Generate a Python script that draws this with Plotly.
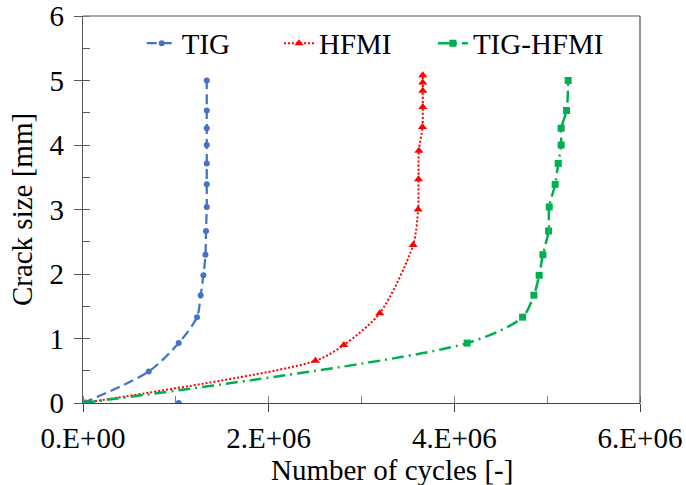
import plotly.graph_objects as go

# ---------------- data ----------------
tig_x = [0, 0.708e6, 1.031e6, 1.228e6, 1.268e6, 1.297e6, 1.319e6, 1.325e6,
         1.333e6, 1.333e6, 1.333e6, 1.333e6, 1.333e6, 1.333e6, 1.333e6]
tig_y = [0, 0.489, 0.929, 1.331, 1.672, 1.98, 2.30, 2.667,
         3.04, 3.39, 3.715, 4.0, 4.26, 4.535, 5.0]
tig_extra_x = [1.031e6]
tig_extra_y = [0]

hfmi_x = [0, 2.504e6, 2.81e6, 3.197e6, 3.556e6, 3.610e6, 3.614e6, 3.618e6,
          3.657e6, 3.66e6, 3.66e6, 3.66e6, 3.66e6]
hfmi_y = [0, 0.655, 0.90, 1.393, 2.45, 3.0, 3.47, 3.91,
          4.28, 4.59, 4.84, 4.97, 5.08]

tighfmi_x = [0, 4.138e6, 4.735e6, 4.857e6, 4.914e6, 4.954e6, 5.015e6, 5.022e6,
             5.086e6, 5.119e6, 5.151e6, 5.151e6, 5.209e6, 5.226e6]
tighfmi_y = [0, 0.929, 1.331, 1.672, 1.98, 2.30, 2.667, 3.04,
             3.39, 3.715, 4.0, 4.26, 4.535, 5.0]

x_tickvals = [0, 2e6, 4e6, 6e6]
x_ticktext = ["0.E+00", "2.E+06", "4.E+06", "6.E+06"]
y_tickvals = [0, 1, 2, 3, 4, 5, 6]

x_title = "Number of cycles [-]"
y_title = "Crack size [mm]"

FONT = "Liberation Serif"
FS = 29

fig = go.Figure()

fig.add_trace(go.Scatter(
    x=tig_x + [None] + tig_extra_x, y=tig_y + [None] + tig_extra_y,
    name="TIG", mode="lines+markers", legend="legend", showlegend=True,
    line=dict(color="#4472C4", width=2.25, dash="10px,5px", shape="spline", smoothing=0.8),
    marker=dict(symbol="circle", size=6, color="#4472C4"),
))
fig.add_trace(go.Scatter(
    x=hfmi_x, y=hfmi_y, name="HFMI", mode="lines+markers", legend="legend2", showlegend=True,
    line=dict(color="#FF0000", width=2, dash="2px,2px", shape="spline", smoothing=0.8),
    marker=dict(symbol="triangle-up", size=8, color="#FF0000"),
))
fig.add_trace(go.Scatter(
    x=tighfmi_x, y=tighfmi_y, name="TIG-HFMI", mode="lines+markers", legend="legend3", showlegend=True,
    line=dict(color="#00B050", width=2.5, dash="12px,5px,2px,5px", shape="spline", smoothing=0.8),
    marker=dict(symbol="square", size=7, color="#00B050"),
))

axis_common = dict(showgrid=False, zeroline=False, showline=True, automargin=False,
                   tickfont=dict(family=FONT, size=FS, color="black"))

def leg(xp):
    return dict(x=xp, xanchor="left", y=0.9954, yanchor="top", orientation="h",
                bgcolor="rgba(0,0,0,0)", borderwidth=0,
                font=dict(family=FONT, size=FS, color="black"))

fig.update_layout(
    width=686, height=485,
    margin=dict(l=83, r=46, t=16, b=82, autoexpand=False),
    plot_bgcolor="white", paper_bgcolor="white",
    font=dict(family=FONT, color="black"),
    showlegend=True,
    xaxis=dict(
        range=[0, 6e6], tickvals=x_tickvals, ticktext=x_ticktext,
        ticks="outside", ticklen=8, tickwidth=1, tickcolor="#404040",
        linecolor="#404040", linewidth=1.3,
        minor=dict(dtick=1e6, ticks="inside", ticklen=7, tickcolor="#808080"),
        ticklabelstandoff=1,
        **axis_common),
    xaxis2=dict(range=[0, 6e6], overlaying="x", anchor="y", side="bottom",
                tickvals=x_tickvals, ticks="inside", ticklen=7, tickcolor="#404040",
                showticklabels=False, showline=False, showgrid=False, zeroline=False),
    yaxis=dict(
        range=[0, 6], tickvals=y_tickvals,
        ticks="outside", ticklen=8, tickwidth=1, tickcolor="#595959",
        linecolor="#595959", linewidth=1.3,
        minor=dict(dtick=0.5, ticks="inside", ticklen=7, tickcolor="#595959"),
        title=dict(text=y_title, font=dict(family=FONT, size=FS, color="black"), standoff=8),
        ticklabelstandoff=4,
        **axis_common),
    yaxis2=dict(range=[0, 6], overlaying="y", anchor="x", side="left",
                tickvals=y_tickvals, ticks="inside", ticklen=7, tickcolor="#595959",
                showticklabels=False, showline=False, showgrid=False, zeroline=False),
    legend=leg(0.1054),
    legend2=leg(0.3518),
    legend3=leg(0.6282),
    annotations=[
        dict(text=x_title, xref="paper", yref="paper", x=0.5548, y=-0.172,
             xanchor="center", yanchor="middle", showarrow=False,
             font=dict(family=FONT, size=FS, color="black")),
    ],
    shapes=[
        dict(type="line", xref="paper", yref="paper", x0=0, x1=1, y0=1, y1=1,
             line=dict(color="#8C8C8C", width=1.3)),
        dict(type="line", xref="paper", yref="paper", x0=1, x1=1, y0=0, y1=1,
             line=dict(color="#595959", width=1.3)),
    ],
)

fig.write_html("out.html")
